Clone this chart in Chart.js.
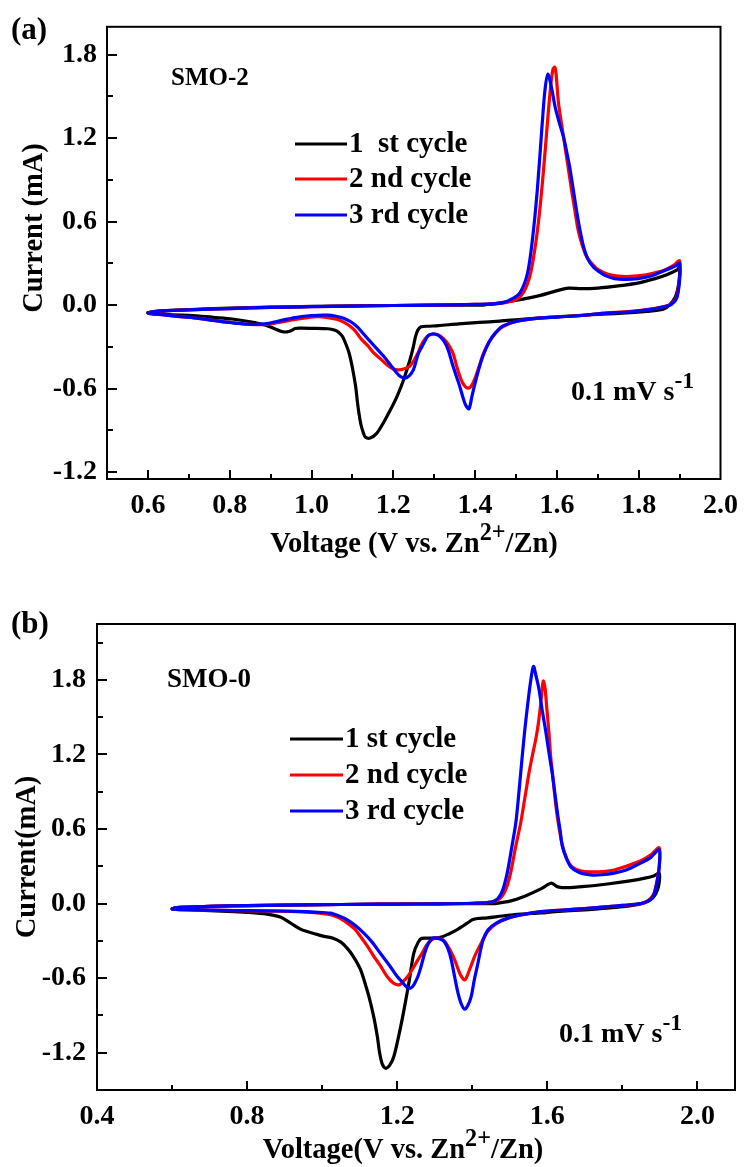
<!DOCTYPE html>
<html><head><meta charset="utf-8">
<script src="https://cdn.jsdelivr.net/npm/chart.js@4/dist/chart.umd.min.js"></script>
<style>
html,body{margin:0;padding:0;background:#fff;width:748px;height:1167px;overflow:hidden}
#wa{position:absolute;left:0;top:0;width:748px;height:570px}
#wb{position:absolute;left:0;top:580px;width:748px;height:587px}
canvas{display:block}
</style></head><body>
<div id="wa"><canvas id="ca" width="748" height="570"></canvas></div>
<div id="wb"><canvas id="cb" width="748" height="587"></canvas></div>
<script>
// ---------- DATA (Voltage V, Current mA) ----------
const seriesLabelsA = ['1  st cycle', '2 nd cycle', '3 rd cycle'];
const seriesLabelsB = ['1 st cycle', '2 nd cycle', '3 rd cycle'];

const aCycle1 = [[1.42,0.0],[1.47,0.02],[1.52,0.045],[1.56,0.07],[1.59,0.095],[1.615,0.115],[1.63,0.122],[1.66,0.118],[1.70,0.122],[1.75,0.138],[1.80,0.16],[1.84,0.19],[1.87,0.22],[1.895,0.255],[1.90,0.275],[1.898,0.16],[1.89,0.06],[1.875,0.0],[1.86,-0.03],[1.82,-0.045],[1.75,-0.06],[1.68,-0.07],[1.60,-0.085],[1.52,-0.10],[1.46,-0.115],[1.41,-0.125],[1.36,-0.135],[1.31,-0.148],[1.285,-0.152],[1.268,-0.156],[1.26,-0.18],[1.254,-0.23],[1.249,-0.30],[1.24,-0.40],[1.225,-0.538],[1.21,-0.65],[1.193,-0.753],[1.177,-0.84],[1.16,-0.92],[1.143,-0.956],[1.132,-0.95],[1.127,-0.92],[1.121,-0.86],[1.116,-0.777],[1.112,-0.69],[1.108,-0.586],[1.10,-0.45],[1.092,-0.346],[1.084,-0.28],[1.076,-0.227],[1.066,-0.195],[1.056,-0.179],[1.04,-0.17],[1.00,-0.167],[0.975,-0.166],[0.96,-0.168],[0.95,-0.185],[0.94,-0.193],[0.927,-0.19],[0.91,-0.17],[0.886,-0.143],[0.85,-0.12],[0.806,-0.10],[0.76,-0.088],[0.725,-0.079],[0.68,-0.072],[0.64,-0.067],[0.61,-0.063],[0.60,-0.058],[0.61,-0.048],[0.65,-0.04],[0.72,-0.03],[0.80,-0.022],[0.90,-0.015],[1.00,-0.01],[1.10,-0.006],[1.20,-0.003],[1.30,0.0],[1.38,0.0],[1.42,0.0]];
const aCycle2 = [[0.60,-0.055],[0.62,-0.045],[0.70,-0.035],[0.80,-0.025],[0.90,-0.017],[1.00,-0.012],[1.10,-0.007],[1.20,-0.003],[1.30,0.0],[1.40,0.005],[1.46,0.012],[1.50,0.04],[1.52,0.10],[1.535,0.22],[1.548,0.44],[1.558,0.68],[1.567,0.96],[1.576,1.28],[1.584,1.55],[1.590,1.69],[1.595,1.71],[1.598,1.66],[1.604,1.45],[1.612,1.29],[1.620,1.135],[1.628,0.98],[1.636,0.824],[1.644,0.68],[1.652,0.538],[1.662,0.43],[1.673,0.346],[1.688,0.29],[1.701,0.255],[1.725,0.222],[1.75,0.208],[1.78,0.206],[1.814,0.215],[1.84,0.232],[1.862,0.25],[1.885,0.285],[1.90,0.318],[1.90,0.20],[1.893,0.06],[1.88,0.01],[1.86,-0.012],[1.82,-0.032],[1.78,-0.045],[1.71,-0.06],[1.66,-0.075],[1.60,-0.086],[1.55,-0.096],[1.50,-0.118],[1.467,-0.156],[1.45,-0.20],[1.435,-0.263],[1.42,-0.35],[1.41,-0.44],[1.40,-0.525],[1.39,-0.585],[1.382,-0.597],[1.374,-0.58],[1.366,-0.538],[1.356,-0.45],[1.346,-0.346],[1.334,-0.28],[1.322,-0.239],[1.31,-0.214],[1.298,-0.208],[1.287,-0.218],[1.277,-0.245],[1.268,-0.29],[1.26,-0.346],[1.25,-0.40],[1.24,-0.44],[1.229,-0.456],[1.213,-0.466],[1.20,-0.46],[1.185,-0.43],[1.17,-0.39],[1.153,-0.346],[1.137,-0.29],[1.12,-0.239],[1.108,-0.19],[1.096,-0.156],[1.08,-0.125],[1.064,-0.103],[1.04,-0.09],[1.015,-0.084],[0.99,-0.09],[0.96,-0.103],[0.92,-0.125],[0.886,-0.14],[0.85,-0.138],[0.806,-0.127],[0.76,-0.11],[0.725,-0.096],[0.68,-0.083],[0.644,-0.072],[0.612,-0.062],[0.60,-0.055]];
const aCycle3 = [[0.60,-0.055],[0.62,-0.045],[0.70,-0.035],[0.80,-0.025],[0.90,-0.017],[1.00,-0.012],[1.10,-0.007],[1.20,-0.003],[1.30,0.0],[1.40,0.005],[1.46,0.012],[1.49,0.045],[1.51,0.09],[1.528,0.227],[1.54,0.466],[1.552,0.824],[1.564,1.30],[1.571,1.55],[1.578,1.66],[1.587,1.56],[1.596,1.42],[1.606,1.31],[1.616,1.21],[1.624,1.10],[1.632,0.98],[1.640,0.83],[1.648,0.68],[1.657,0.53],[1.666,0.41],[1.676,0.33],[1.69,0.27],[1.703,0.24],[1.72,0.21],[1.741,0.19],[1.77,0.185],[1.798,0.19],[1.825,0.205],[1.846,0.227],[1.87,0.255],[1.894,0.287],[1.90,0.30],[1.90,0.18],[1.893,0.05],[1.88,0.005],[1.862,-0.012],[1.82,-0.035],[1.78,-0.048],[1.71,-0.06],[1.66,-0.075],[1.60,-0.086],[1.55,-0.096],[1.50,-0.118],[1.467,-0.152],[1.45,-0.20],[1.435,-0.26],[1.42,-0.36],[1.41,-0.45],[1.40,-0.56],[1.392,-0.66],[1.385,-0.745],[1.377,-0.72],[1.37,-0.66],[1.362,-0.58],[1.354,-0.51],[1.344,-0.42],[1.334,-0.32],[1.324,-0.26],[1.314,-0.225],[1.303,-0.21],[1.295,-0.208],[1.285,-0.22],[1.277,-0.26],[1.268,-0.31],[1.261,-0.35],[1.255,-0.41],[1.249,-0.466],[1.24,-0.505],[1.229,-0.525],[1.218,-0.515],[1.209,-0.49],[1.193,-0.43],[1.177,-0.37],[1.16,-0.315],[1.144,-0.263],[1.128,-0.21],[1.112,-0.156],[1.096,-0.12],[1.08,-0.096],[1.06,-0.08],[1.04,-0.072],[1.00,-0.075],[0.96,-0.09],[0.919,-0.115],[0.886,-0.135],[0.85,-0.138],[0.806,-0.127],[0.76,-0.11],[0.725,-0.096],[0.68,-0.083],[0.644,-0.072],[0.612,-0.062],[0.60,-0.055]];

const bCycle1 = [[1.46,0.0],[1.50,0.02],[1.54,0.06],[1.584,0.12],[1.60,0.15],[1.611,0.165],[1.62,0.148],[1.628,0.135],[1.65,0.128],[1.70,0.138],[1.76,0.158],[1.82,0.183],[1.86,0.205],[1.885,0.225],[1.898,0.245],[1.897,0.15],[1.889,0.08],[1.875,0.03],[1.85,0.0],[1.80,-0.025],[1.76,-0.037],[1.70,-0.05],[1.62,-0.065],[1.584,-0.075],[1.53,-0.085],[1.48,-0.10],[1.44,-0.115],[1.415,-0.12],[1.40,-0.13],[1.39,-0.15],[1.375,-0.18],[1.36,-0.21],[1.34,-0.24],[1.315,-0.272],[1.29,-0.278],[1.265,-0.28],[1.256,-0.31],[1.244,-0.40],[1.232,-0.62],[1.218,-0.855],[1.205,-1.05],[1.191,-1.23],[1.18,-1.30],[1.169,-1.325],[1.16,-1.29],[1.153,-1.20],[1.147,-1.07],[1.138,-0.92],[1.129,-0.80],[1.12,-0.70],[1.102,-0.53],[1.084,-0.43],[1.067,-0.36],[1.05,-0.31],[1.031,-0.28],[1.0,-0.26],[0.978,-0.24],[0.96,-0.225],[0.942,-0.205],[0.915,-0.155],[0.89,-0.11],[0.853,-0.085],[0.80,-0.07],[0.764,-0.065],[0.70,-0.056],[0.65,-0.05],[0.61,-0.047],[0.60,-0.043],[0.61,-0.032],[0.70,-0.022],[0.80,-0.016],[0.90,-0.012],[1.00,-0.009],[1.10,-0.006],[1.20,-0.004],[1.30,-0.002],[1.40,0.0],[1.46,0.0]];
const bCycle2 = [[0.60,-0.043],[0.62,-0.03],[0.70,-0.022],[0.80,-0.016],[0.90,-0.012],[1.00,-0.009],[1.10,-0.006],[1.20,-0.004],[1.30,-0.002],[1.40,0.003],[1.45,0.012],[1.475,0.045],[1.49,0.12],[1.502,0.245],[1.515,0.45],[1.529,0.65],[1.54,0.85],[1.551,1.05],[1.56,1.19],[1.569,1.32],[1.576,1.45],[1.582,1.60],[1.589,1.79],[1.594,1.73],[1.598,1.59],[1.604,1.38],[1.609,1.18],[1.616,0.98],[1.623,0.78],[1.63,0.63],[1.64,0.47],[1.652,0.36],[1.666,0.295],[1.69,0.262],[1.715,0.255],[1.75,0.258],[1.778,0.27],[1.81,0.30],[1.849,0.345],[1.875,0.39],[1.898,0.45],[1.898,0.30],[1.89,0.15],[1.882,0.07],[1.868,0.025],[1.849,0.0],[1.80,-0.015],[1.762,-0.025],[1.70,-0.04],[1.65,-0.05],[1.584,-0.064],[1.54,-0.085],[1.495,-0.117],[1.465,-0.16],[1.442,-0.22],[1.425,-0.31],[1.406,-0.426],[1.393,-0.53],[1.38,-0.614],[1.368,-0.57],[1.353,-0.453],[1.34,-0.37],[1.328,-0.31],[1.318,-0.285],[1.30,-0.278],[1.282,-0.32],[1.268,-0.39],[1.255,-0.453],[1.24,-0.53],[1.228,-0.587],[1.215,-0.63],[1.205,-0.654],[1.19,-0.64],[1.173,-0.587],[1.155,-0.50],[1.138,-0.426],[1.12,-0.34],[1.102,-0.265],[1.085,-0.20],[1.067,-0.157],[1.045,-0.115],[1.022,-0.09],[0.98,-0.072],[0.933,-0.064],[0.85,-0.06],[0.764,-0.056],[0.70,-0.052],[0.65,-0.049],[0.61,-0.046],[0.60,-0.043]];
const bCycle3 = [[0.60,-0.043],[0.62,-0.03],[0.70,-0.022],[0.80,-0.016],[0.90,-0.012],[1.00,-0.009],[1.10,-0.006],[1.20,-0.004],[1.30,-0.002],[1.40,0.003],[1.45,0.012],[1.468,0.04],[1.48,0.10],[1.493,0.245],[1.505,0.45],[1.516,0.65],[1.525,0.92],[1.533,1.184],[1.54,1.40],[1.547,1.587],[1.555,1.78],[1.563,1.909],[1.57,1.83],[1.578,1.72],[1.586,1.56],[1.595,1.40],[1.604,1.22],[1.613,1.05],[1.62,0.89],[1.627,0.728],[1.634,0.59],[1.64,0.46],[1.65,0.37],[1.662,0.298],[1.685,0.25],[1.715,0.231],[1.745,0.232],[1.778,0.245],[1.81,0.27],[1.849,0.326],[1.875,0.37],[1.898,0.433],[1.898,0.29],[1.89,0.14],[1.882,0.06],[1.868,0.02],[1.849,0.0],[1.80,-0.015],[1.762,-0.025],[1.70,-0.04],[1.65,-0.05],[1.584,-0.064],[1.54,-0.085],[1.495,-0.117],[1.465,-0.155],[1.442,-0.21],[1.428,-0.30],[1.415,-0.48],[1.405,-0.62],[1.397,-0.748],[1.388,-0.82],[1.38,-0.85],[1.371,-0.81],[1.362,-0.72],[1.353,-0.59],[1.344,-0.453],[1.335,-0.36],[1.325,-0.305],[1.318,-0.29],[1.307,-0.278],[1.295,-0.278],[1.283,-0.32],[1.273,-0.40],[1.264,-0.50],[1.255,-0.587],[1.245,-0.65],[1.236,-0.68],[1.225,-0.67],[1.21,-0.62],[1.20,-0.587],[1.18,-0.50],[1.155,-0.40],[1.133,-0.31],[1.111,-0.238],[1.09,-0.18],[1.067,-0.131],[1.045,-0.10],[1.022,-0.077],[0.98,-0.068],[0.933,-0.062],[0.85,-0.058],[0.764,-0.056],[0.70,-0.052],[0.65,-0.049],[0.61,-0.046],[0.60,-0.043]];

// ---------- TICKS ----------
const aXTicks = [0.6,0.7,0.8,0.9,1.0,1.1,1.2,1.3,1.4,1.5,1.6,1.7,1.8,1.9,2.0];
const aXLabels = ['0.6','0.8','1.0','1.2','1.4','1.6','1.8','2.0'];
const aYTicks = [-1.2,-0.9,-0.6,-0.3,0.0,0.3,0.6,0.9,1.2,1.5,1.8];
const aYLabels = ['-1.2','-0.6','0.0','0.6','1.2','1.8'];
const bXTicks = [0.4,0.6,0.8,1.0,1.2,1.4,1.6,1.8,2.0];
const bXLabels = ['0.4','0.8','1.2','1.6','2.0'];
const bYTicks = [-1.2,-0.9,-0.6,-0.3,0.0,0.3,0.6,0.9,1.2,1.5,1.8,2.1];
const bYLabels = ['-1.2','-0.6','0.0','0.6','1.2','1.8'];

// ---------- STYLE / LAYOUT ----------
const COLORS = ['#000000', '#ff0000', '#0000ff'];
const FONT = '"Liberation Serif", "Times New Roman", serif';
const TICK_SIZE = 28;
function fnt(size){ return 'bold ' + size + 'px ' + FONT; }

function toXY(arr){ return arr.map(p => ({x: p[0], y: p[1]})); }

function textWidth(ctx, parts, size){
  let w = 0;
  parts.forEach(p => { ctx.font = fnt(p.sup ? size*0.85 : size); w += ctx.measureText(p.t).width; });
  return w;
}
function drawRich(ctx, parts, x, y, size, align){
  const w = textWidth(ctx, parts, size);
  let cx = align === 'center' ? x - w/2 : x;
  const base = y + size*0.33;
  ctx.textAlign = 'left'; ctx.textBaseline = 'alphabetic';
  parts.forEach(p => {
    const s = p.sup ? size*0.85 : size;
    ctx.font = fnt(s);
    ctx.fillText(p.t, cx, p.sup ? base - size*0.42 : base);
    cx += ctx.measureText(p.t).width;
  });
}

const decorPlugin = {
  id: 'decor',
  afterDraw(chart, args, o){
    const {ctx, chartArea: a, scales: {x, y}} = chart;
    ctx.save();
    ctx.fillStyle = '#000'; ctx.strokeStyle = '#000';
    ctx.lineWidth = 2;
    ctx.strokeRect(a.left, a.top, a.right - a.left, a.bottom - a.top);
    ctx.beginPath();
    x.ticks.forEach(t => {
      const px = Math.round(x.getPixelForValue(t.value));
      if (px <= a.left + 1 || px >= a.right - 1) return;
      const len = t.label ? 9 : 5;
      ctx.moveTo(px, a.bottom); ctx.lineTo(px, a.bottom - len);
    });
    y.ticks.forEach(t => {
      const py = Math.round(y.getPixelForValue(t.value));
      if (py <= a.top + 1 || py >= a.bottom - 1) return;
      const len = t.label ? 10 : 6;
      ctx.moveTo(a.left, py); ctx.lineTo(a.left + len, py);
    });
    ctx.stroke();
    ctx.textAlign = 'left'; ctx.textBaseline = 'middle';
    ctx.font = fnt(o.panelSize); ctx.fillText(o.panel, o.panelX, o.panelY);
    ctx.font = fnt(o.nameSize); ctx.fillText(o.name, o.nameX, o.nameY);
    drawRich(ctx, o.rate, o.rateX, o.rateY, o.rateSize, 'left');
    drawRich(ctx, o.xTitle, o.xTitleX, o.xTitleY, o.titleSize, 'center');
    ctx.save();
    ctx.translate(o.yTitleX, o.yTitleY); ctx.rotate(-Math.PI/2);
    ctx.textAlign = 'center'; ctx.textBaseline = 'middle';
    ctx.font = fnt(o.titleSize); ctx.fillText(o.yTitle, 0, 0);
    ctx.restore();
    chart.data.datasets.forEach((d, i) => {
      const ly = o.legY[i];
      ctx.strokeStyle = d.borderColor; ctx.lineWidth = 3;
      ctx.beginPath(); ctx.moveTo(o.legX0, ly); ctx.lineTo(o.legX1, ly); ctx.stroke();
      ctx.fillStyle = '#000'; ctx.textAlign = 'left'; ctx.textBaseline = 'middle';
      ctx.font = fnt(o.legSize); ctx.fillText(d.label, o.legTextX, ly + 1);
    });
    ctx.restore();
  }
};

function makeChart(id, cfg){
  const datasets = cfg.series.map((s, i) => ({
    label: cfg.labels[i], data: toXY(s), borderColor: COLORS[i], backgroundColor: COLORS[i],
    borderWidth: 3.2, showLine: true, pointRadius: 0, tension: 0.3, fill: false,
    borderJoinStyle: 'round', borderCapStyle: 'round', order: 3 - i
  }));
  const tickCb = (labels) => (v) => { let s = Number(v).toFixed(1); if (s === '-0.0') s = '0.0'; return labels.includes(s) ? s : ''; };
  return new Chart(document.getElementById(id), {
    type: 'scatter',
    data: {datasets},
    options: {
      responsive: false, animation: false, devicePixelRatio: 1,
      layout: {padding: cfg.padding},
      plugins: {legend: {display: false}, tooltip: {enabled: false}, decor: cfg.decor},
      scales: {
        x: {
          type: 'linear', min: cfg.xMin, max: cfg.xMax,
          grid: {display: false, drawTicks: false}, border: {display: false},
          afterBuildTicks: s => { s.ticks = cfg.xTicks.map(v => ({value: v})); },
          afterFit: s => { s.height = cfg.xHeight; },
          ticks: {autoSkip: false, maxRotation: 0, minRotation: 0, padding: cfg.xPad, color: '#000',
                  font: {family: FONT, size: TICK_SIZE, weight: 'bold'}, callback: tickCb(cfg.xLabels)}
        },
        y: {
          type: 'linear', min: cfg.yMin, max: cfg.yMax,
          grid: {display: false, drawTicks: false}, border: {display: false},
          afterBuildTicks: s => { s.ticks = cfg.yTicks.map(v => ({value: v})); },
          afterFit: s => { s.width = cfg.yWidth; },
          ticks: {autoSkip: false, padding: cfg.yPad, color: '#000',
                  font: {family: FONT, size: TICK_SIZE, weight: 'bold'}, callback: tickCb(cfg.yLabels)}
        }
      }
    },
    plugins: [decorPlugin]
  });
}

makeChart('ca', {
  series: [aCycle1, aCycle2, aCycle3], labels: seriesLabelsA,
  xMin: 0.5, xMax: 2.0, yMin: -1.25, yMax: 2.0,
  xTicks: aXTicks, xLabels: aXLabels, yTicks: aYTicks, yLabels: aYLabels,
  padding: {left: 0, top: 26, right: 21, bottom: 0}, yWidth: 107, xHeight: 91, xPad: 10, yPad: 10,
  decor: {
    panel: '(a)', panelX: 11, panelY: 31, panelSize: 31,
    name: 'SMO-2', nameX: 171, nameY: 79, nameSize: 25,
    rate: [{t: '0.1 mV s'}, {t: '-1', sup: true}], rateX: 571, rateY: 391, rateSize: 28,
    xTitle: [{t: 'Voltage (V vs. Zn'}, {t: '2+', sup: true}, {t: '/Zn)'}], xTitleX: 414, xTitleY: 543,
    yTitle: 'Current (mA)', yTitleX: 35, yTitleY: 228, titleSize: 28.5,
    legX0: 295, legX1: 347, legTextX: 349, legY: [144, 179, 215], legSize: 29
  }
});

makeChart('cb', {
  series: [bCycle1, bCycle2, bCycle3], labels: seriesLabelsB,
  xMin: 0.4, xMax: 2.1, yMin: -1.5, yMax: 2.25,
  xTicks: bXTicks, xLabels: bXLabels, yTicks: bYTicks, yLabels: bYLabels,
  padding: {left: 0, top: 44, right: 13, bottom: 0}, yWidth: 97, xHeight: 77, xPad: 10, yPad: 11,
  decor: {
    panel: '(b)', panelX: 11, panelY: 45, panelSize: 31,
    name: 'SMO-0', nameX: 167, nameY: 100, nameSize: 27,
    rate: [{t: '0.1 mV s'}, {t: '-1', sup: true}], rateX: 559, rateY: 453, rateSize: 28,
    xTitle: [{t: 'Voltage(V vs. Zn'}, {t: '2+', sup: true}, {t: '/Zn)'}], xTitleX: 403, xTitleY: 569,
    yTitle: 'Current(mA)', yTitleX: 28, yTitleY: 277, titleSize: 28.5,
    legX0: 290, legX1: 343, legTextX: 345, legY: [159, 195, 231], legSize: 29
  }
});
</script>
</body></html>
